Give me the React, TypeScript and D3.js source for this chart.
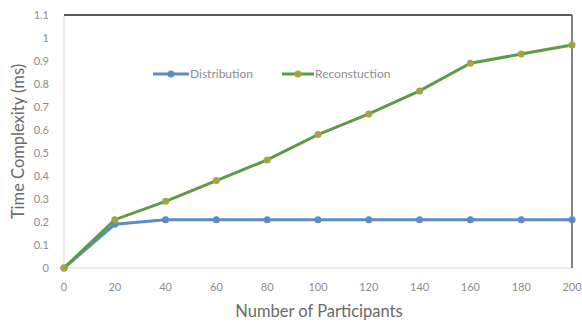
import React from "react";
import * as d3 from "d3";

const participants = [0, 20, 40, 60, 80, 100, 120, 140, 160, 180, 200];
const distribution = [0, 0.19, 0.21, 0.21, 0.21, 0.21, 0.21, 0.21, 0.21, 0.21, 0.21];
const reconstruction = [0, 0.21, 0.29, 0.38, 0.47, 0.58, 0.67, 0.77, 0.89, 0.93, 0.97];
const yTicks = [0, 0.1, 0.2, 0.3, 0.4, 0.5, 0.6, 0.7, 0.8, 0.9, 1, 1.1];
const seriesNames = ["Distribution", "Reconstuction"];

const W = 582, H = 324;
const left = 64, right = 572, top = 15, bottom = 268;
const font = "Lato, 'Open Sans', sans-serif";
const blue = "#5b8cc4";
const blueMarker = "#5b8cc4";
const green = "#5e9b45";
const greenMarker = "#a5a443";

export default function App() {
  const x = d3.scaleLinear().domain([0, 200]).range([left, right]);
  const y = d3.scaleLinear().domain([0, 1.1]).range([bottom, top]);
  const line = d3.line<number>().x((_, i) => x(participants[i])).y((d) => y(d));

  return (
    <svg width={W} height={H} style={{ position: "absolute", left: 0, top: 0, background: "#fff" }}>
      {/* axes */}
      <line x1={left} y1={top} x2={left} y2={bottom} stroke="#d9d9d9" strokeWidth={1} />
      <line x1={left} y1={bottom} x2={right} y2={bottom} stroke="#d9d9d9" strokeWidth={1} />
      <line x1={left} y1={top} x2={right} y2={top} stroke="#595959" strokeWidth={2} />
      <line x1={right} y1={top} x2={right} y2={bottom} stroke="#595959" strokeWidth={1.5} />
      {yTicks.map((t) => (
        <text key={t} x={49} y={y(t)} dy="0.35em" textAnchor="end" fontFamily={font} fontSize={11} fill="#8c8c8c">
          {d3.format("~g")(t)}
        </text>
      ))}
      {participants.map((t) => (
        <text key={t} x={x(t)} y={287} dy="0.35em" textAnchor="middle" fontFamily={font} fontSize={11} fill="#8c8c8c">
          {t}
        </text>
      ))}
      <text x={319} y={311} dy="0.35em" textAnchor="middle" fontFamily={font} fontSize={16.5} fill="#6a6a6a">
        Number of Participants
      </text>
      <text transform={`translate(18,${(top + bottom) / 2}) rotate(-90)`} dy="0.35em" textAnchor="middle" fontFamily={font} fontSize={16.5} fill="#6a6a6a">
        Time Complexity (ms)
      </text>
      {/* series */}
      <path d={line(distribution) ?? ""} fill="none" stroke={blue} strokeWidth={3} />
      <path d={line(reconstruction) ?? ""} fill="none" stroke={green} strokeWidth={3} />
      {distribution.map((d, i) => (
        <circle key={"d" + i} cx={x(participants[i])} cy={y(d)} r={3.5} fill={blueMarker} />
      ))}
      {reconstruction.map((d, i) => (
        <circle key={"r" + i} cx={x(participants[i])} cy={y(d)} r={3.5} fill={greenMarker} />
      ))}
      {/* legend */}
      <line x1={153} y1={74} x2={189} y2={74} stroke={blue} strokeWidth={3} />
      <circle cx={171} cy={74} r={3.5} fill={blueMarker} />
      <text x={190} y={74} dy="0.35em" fontFamily={font} fontSize={12} fill="#8c8c8c">{seriesNames[0]}</text>
      <line x1={282} y1={74} x2={314} y2={74} stroke={green} strokeWidth={3} />
      <circle cx={298} cy={74} r={3.5} fill={greenMarker} />
      <text x={315} y={74} dy="0.35em" fontFamily={font} fontSize={12} fill="#8c8c8c">{seriesNames[1]}</text>
    </svg>
  );
}
